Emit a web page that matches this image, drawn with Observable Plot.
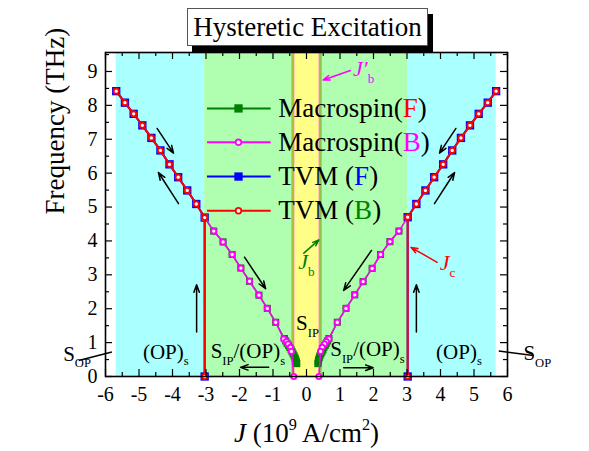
<!DOCTYPE html>
<html><head><meta charset="utf-8">
<script src="https://cdn.jsdelivr.net/npm/d3@7"></script>
<script src="https://cdn.jsdelivr.net/npm/@observablehq/plot@0.6"></script>
<style>
body{margin:0;background:#fff;}
#wrap{position:relative;width:589px;height:451px;font-family:"Liberation Serif","Times New Roman",serif;}
#chart{position:absolute;left:0;top:0;}
#title{position:absolute;left:187px;top:8px;width:239px;height:36px;border:1px solid #555;background:#fff;box-shadow:5px 6px 0 #000;font-size:27px;line-height:36px;text-align:center;z-index:2;color:#000;}
</style></head><body>
<div id="wrap"><div id="chart"></div><div id="title">Hysteretic Excitation</div></div>
<script>
// ---------------- data ----------------
// TVM upper branch + jump at J_c (F and B share the same points)
const tvmLeftJ  = [-5.68,-5.42,-5.16,-4.90,-4.63,-4.36,-4.09,-3.83,-3.56,-3.29,-3.04,-3.04];
const tvmLeftF  = [ 8.42, 8.08, 7.75, 7.41, 7.04, 6.67, 6.26, 5.88, 5.49, 5.09, 4.69, 0];
const tvmRightJ = [ 5.66, 5.41, 5.14, 4.88, 4.61, 4.35, 4.08, 3.81, 3.55, 3.28, 3.02, 3.02];
const tvmRightF = [ 8.42, 8.08, 7.75, 7.41, 7.04, 6.67, 6.26, 5.88, 5.49, 5.09, 4.70, 0];
// Macrospin backward branch
const msBLeftJ  = [-3.04,-2.77,-2.49,-2.22,-1.96,-1.70,-1.42,-1.17,-0.92,-0.68,-0.60,-0.55,-0.48,-0.45,-0.38];
const msBLeftF  = [ 4.69, 4.29, 3.97, 3.60, 3.20, 2.81, 2.40, 2.01, 1.60, 1.11, 1.03, 0.96, 0.86, 0.74, 0];
const msBRightJ = [ 3.02, 2.76, 2.49, 2.21, 1.96, 1.69, 1.44, 1.18, 0.92, 0.67, 0.59, 0.54, 0.47, 0.42, 0.37];
const msBRightF = [ 4.70, 4.29, 3.98, 3.60, 3.19, 2.80, 2.41, 2.01, 1.60, 1.11, 1.03, 0.96, 0.86, 0.74, 0];
// Macrospin forward branch
const msFLeftJ  = [-3.04,-2.77,-2.49,-2.22,-1.96,-1.70,-1.42,-1.17,-0.92,-0.66,-0.62,-0.58,-0.54,-0.50,-0.46,-0.43,-0.40,-0.37,-0.34,-0.32,-0.30,-0.29];
const msFLeftF  = [ 4.69, 4.29, 3.97, 3.60, 3.20, 2.81, 2.40, 2.01, 1.60, 1.12, 1.05, 0.98, 0.92, 0.86, 0.79, 0.73, 0.67, 0.61, 0.55, 0.49, 0.43, 0.38];
const msFRightJ = [ 2.76, 2.49, 2.21, 1.96, 1.69, 1.44, 1.18, 0.92, 0.67, 0.63, 0.59, 0.56, 0.52, 0.49, 0.46, 0.43, 0.40, 0.38, 0.36, 0.35, 0.34];
const msFRightF = [ 4.29, 3.98, 3.60, 3.19, 2.80, 2.41, 2.01, 1.60, 1.12, 1.05, 0.98, 0.92, 0.86, 0.79, 0.73, 0.67, 0.61, 0.55, 0.49, 0.43, 0.38];

// phase regions
const regionStart = [-5.68, -3.04, -0.43, 0.43, 3.02];
const regionEnd   = [-3.04, -0.43,  0.43, 3.02, 5.66];
const regionKind  = ["OP", "mixed", "IP", "mixed", "OP"];
const jbLines      = [-0.43, 0.43];   // J_b
const jbPrimeLines = [-0.38, 0.38];   // J'_b

// ticks
const xTicks = [-6,-5,-4,-3,-2,-1,0,1,2,3,4,5,6];
const yTicks = [0,1,2,3,4,5,6,7,8,9];
const xMinorTicks = [-5.5,-4.5,-3.5,-2.5,-1.5,-0.5,0.5,1.5,2.5,3.5,4.5,5.5];
const yMinorTicks = [0.5,1.5,2.5,3.5,4.5,5.5,6.5,7.5,8.5,9.5];

// legend
const legendKeys   = ["msF","msB","tvmF","tvmB"];
const legendLabels = ["Macrospin({#ff0000|F})","Macrospin({#ff00ff|B})","TVM ({#0000ff|F})","TVM ({#008000|B})"];

// annotations
const noteText = ["(OP)_{s}","(OP)_{s}","S_{IP}/(OP)_{s}","S_{IP}/(OP)_{s}","S_{IP}"];
const noteJ    = [-4.20, 4.55, -1.75, 1.82, 0.03];
const noteF    = [ 0.53, 0.53,  0.55, 0.60, 1.36];
const sopText  = ["S_{OP}","S_{OP}"];
const sopJ     = [-6.85, 6.89];
const sopF     = [ 0.47, 0.49];
const sopLineJ1 = [-6.80, 5.74], sopLineF1 = [0.47, 0.75];
const sopLineJ2 = [-5.81, 6.77], sopLineF2 = [0.72, 0.62];
// black sweep arrows (tail -> head)
const arrJ1 = [-4.46,-3.82, 4.46, 3.82,-3.28, 3.28,-1.85, 1.94,-1.13, 1.11];
const arrF1 = [ 7.32, 5.10, 7.32, 5.10, 1.31, 1.31, 3.52, 3.72, 0.27, 0.26];
const arrJ2 = [-3.97,-4.42, 3.97, 4.42,-3.28, 3.28,-1.22, 1.11,-1.97, 1.99];
const arrF2 = [ 6.59, 6.02, 6.59, 6.02, 2.71, 2.71, 2.59, 2.54, 0.27, 0.26];
// threshold labels
const thrText = ["*J*_{c}", "*J*_{b}", "*J′*_{b}"];
const thrJ    = [3.98, -0.25, 1.39];
const thrF    = [3.13,  3.18, 8.88];
const thrArrJ1 = [3.90, -0.08, 1.31], thrArrF1 = [3.37, 3.64, 9.03];
const thrArrJ2 = [3.12,  0.37, 0.50], thrArrF2 = [3.81, 4.03, 8.75];

const xLabel = "*J* (10^{9} A/cm^{2})";
const yLabel = "Frequency (THz)";

// ---------------- layout & style ----------------
const W = 589, H = 451, mL = 105, mR = 82, mT = 52, mB = 75;
const xDom = [-6, 6], yDom = [0, 9.56];
const pxX = (W - mL - mR) / (xDom[1] - xDom[0]);
const pxY = (H - mT - mB) / (yDom[1] - yDom[0]);
const majorLen = 7, minorLen = 4;
const regionFill = {OP: "#aaffff", mixed: "#b0ffb0", IP: "#ffff88"};
const thrColor = ["#ff0000", "#008000", "#ff00ff"];
const legendLayout = {rowF: [7.91, 6.91, 5.90, 4.89], lineJ: [-2.97, -1.07], markJ: -2.03, textJ: -0.84};
const sty = {
  msF: {line: "#008000"}, msB: {line: "#ff00ff"}, tvmF: {line: "#0000ff"}, tvmB: {line: "#ff0000"}
};

const pts = (J, F) => J.map((j, i) => ({J: j, f: F[i]}));
const tvmL = pts(tvmLeftJ, tvmLeftF), tvmR = pts(tvmRightJ, tvmRightF);
const msBL = pts(msBLeftJ, msBLeftF), msBR = pts(msBRightJ, msBRightF);
const msFL = pts(msFLeftJ, msFLeftF), msFR = pts(msFRightJ, msFRightF);
const idx = a => a.map((_, i) => i);

const squares = (data, fill, r) => Plot.dot(data, {x: "J", y: "f", symbol: "square", r, fill, stroke: "none"});
const circles = (data, stroke) => Plot.dot(data, {x: "J", y: "f", r: 2.6, fill: "white", stroke, strokeWidth: 1.9});
const line = (data, stroke, w) => Plot.line(data, {x: "J", y: "f", stroke, strokeWidth: w});

const marks = [
  Plot.rect(idx(regionStart), {x1: i => regionStart[i], x2: i => regionEnd[i], y1: yDom[0], y2: yDom[1], fill: i => regionFill[regionKind[i]]}),
  Plot.ruleX(jbLines, {x: d => d, y1: yDom[0], y2: yDom[1], stroke: "#6b9a00", strokeWidth: 1}),
  Plot.ruleX(jbPrimeLines, {x: d => d, y1: yDom[0], y2: yDom[1], stroke: "#ff44ff", strokeWidth: 1}),
  // TVM forward
  line(tvmL, sty.tvmF.line, 2), line(tvmR, sty.tvmF.line, 2),
  squares(tvmL, "#0000ff", 4.7), squares(tvmR, "#0000ff", 4.7),
  // Macrospin forward
  line(msFL, sty.msF.line, 1.5), line(msFR, sty.msF.line, 1.5),
  squares(msFL, "#008000", 4.0), squares(msFR, "#008000", 4.0),
  // Macrospin backward
  line(msBL, sty.msB.line, 1.5), line(msBR, sty.msB.line, 1.5),
  circles(msBL, "#ff00ff"), circles(msBR, "#ff00ff"),
  // TVM backward
  line(tvmL, sty.tvmB.line, 2), line(tvmR, sty.tvmB.line, 2),
  circles(tvmL, "#ff0000"), circles(tvmR, "#ff0000"),
  // arrows
  Plot.arrow(idx(arrJ1), {x1: i => arrJ1[i], y1: i => arrF1[i], x2: i => arrJ2[i], y2: i => arrF2[i], stroke: "black", strokeWidth: 1.5, headLength: 8, headAngle: 40}),
  Plot.arrow(idx(thrArrJ1), {x1: i => thrArrJ1[i], y1: i => thrArrF1[i], x2: i => thrArrJ2[i], y2: i => thrArrF2[i], stroke: i => thrColor[i], strokeWidth: 1.5, headLength: 7, headAngle: 40}),
  Plot.text(thrText, {x: (d, i) => thrJ[i], y: (d, i) => thrF[i], text: d => d, fill: (d, i) => thrColor[i], textAnchor: "start", lineAnchor: "bottom", fontSize: 22}),
  // region labels
  Plot.text(noteText, {x: (d, i) => noteJ[i], y: (d, i) => noteF[i], text: d => d, textAnchor: "middle", lineAnchor: "bottom", fontSize: 21, fill: "black"}),
  // S_OP labels outside the frame
  Plot.link(idx(sopText), {x1: i => sopLineJ1[i], y1: i => sopLineF1[i], x2: i => sopLineJ2[i], y2: i => sopLineF2[i], stroke: "black", strokeWidth: 1.5}),
  Plot.text(sopText, {x: (d, i) => sopJ[i], y: (d, i) => sopF[i], text: d => d, textAnchor: (d, i) => i === 0 ? "end" : "start", lineAnchor: "bottom", fontSize: 21, fill: "black"}),
  // legend
  Plot.link(legendKeys, {x1: legendLayout.lineJ[0], x2: legendLayout.lineJ[1], y1: (d, i) => legendLayout.rowF[i], y2: (d, i) => legendLayout.rowF[i], stroke: d => sty[d].line, strokeWidth: 2}),
  Plot.dot(legendKeys.filter(k => k === "msF" || k === "tvmF"), {x: legendLayout.markJ, y: d => legendLayout.rowF[legendKeys.indexOf(d)], symbol: "square", r: 4.7, fill: d => sty[d].line}),
  Plot.dot(legendKeys.filter(k => k === "msB" || k === "tvmB"), {x: legendLayout.markJ, y: d => legendLayout.rowF[legendKeys.indexOf(d)], r: 2.8, fill: "white", stroke: d => sty[d].line, strokeWidth: 1.8}),
  Plot.text(legendLabels, {x: legendLayout.textJ, y: (d, i) => legendLayout.rowF[i], text: d => d, textAnchor: "start", lineAnchor: "middle", fontSize: 27, fill: "black"}),
  // inward ticks on all four sides
  Plot.ruleX(xTicks, {x: d => d, y1: yDom[0], y2: yDom[0] + majorLen / pxY, stroke: "black", strokeWidth: 1.2}),
  Plot.ruleX(xMinorTicks, {x: d => d, y1: yDom[0], y2: yDom[0] + minorLen / pxY, stroke: "black", strokeWidth: 1.2}),
  Plot.ruleX(xTicks, {x: d => d, y1: yDom[1], y2: yDom[1] - majorLen / pxY, stroke: "black", strokeWidth: 1.2}),
  Plot.ruleX(xMinorTicks, {x: d => d, y1: yDom[1], y2: yDom[1] - minorLen / pxY, stroke: "black", strokeWidth: 1.2}),
  Plot.ruleY(yTicks, {y: d => d, x1: xDom[0], x2: xDom[0] + majorLen / pxX, stroke: "black", strokeWidth: 1.2}),
  Plot.ruleY(yMinorTicks, {y: d => d, x1: xDom[0], x2: xDom[0] + minorLen / pxX, stroke: "black", strokeWidth: 1.2}),
  Plot.ruleY(yTicks, {y: d => d, x1: xDom[1], x2: xDom[1] - majorLen / pxX, stroke: "black", strokeWidth: 1.2}),
  Plot.ruleY(yMinorTicks, {y: d => d, x1: xDom[1], x2: xDom[1] - minorLen / pxX, stroke: "black", strokeWidth: 1.2}),
  Plot.frame({stroke: "black", strokeWidth: 1.6}),
  Plot.axisX({ticks: xTicks, tickSize: 0, tickPadding: 10, tickFormat: d => String(d), fontSize: 20, label: null}),
  Plot.axisY({ticks: yTicks, tickSize: 0, tickPadding: 8, tickFormat: d => String(d), fontSize: 20, label: null}),
  Plot.text([xLabel], {frameAnchor: "bottom", dy: 65, text: d => d, lineAnchor: "bottom", fontSize: 27, fill: "black"}),
  Plot.text([yLabel], {frameAnchor: "left", dx: -50, rotate: -90, text: d => d, lineAnchor: "middle", fontSize: 27, fill: "black"})
];

const svg = Plot.plot({
  width: W, height: H, marginLeft: mL, marginRight: mR, marginTop: mT, marginBottom: mB,
  x: {domain: xDom}, y: {domain: yDom},
  style: {fontFamily: "'Liberation Serif','Times New Roman',serif", background: "transparent", color: "black", overflow: "visible"},
  marks
});
document.getElementById("chart").appendChild(svg);

// ---------------- rich text (sub/superscripts, italics, colored letters) ----------------
function parseRich(s) {
  const segs = []; let i = 0, buf = "";
  const push = (t, st) => { if (t) segs.push(Object.assign({t}, st)); };
  while (i < s.length) {
    const c = s[i];
    if ((c === "_" || c === "^") && s[i + 1] === "{") {
      push(buf, {}); buf = "";
      const j = s.indexOf("}", i);
      push(s.slice(i + 2, j), {shift: c === "_" ? "sub" : "sup"}); i = j + 1;
    } else if (c === "*") {
      push(buf, {}); buf = "";
      const j = s.indexOf("*", i + 1);
      push(s.slice(i + 1, j), {italic: true}); i = j + 1;
    } else if (c === "{" && s[i + 1] === "#") {
      push(buf, {}); buf = "";
      const k = s.indexOf("|", i), j = s.indexOf("}", i);
      push(s.slice(k + 1, j), {color: s.slice(i + 1, k)}); i = j + 1;
    } else { buf += c; i++; }
  }
  push(buf, {});
  return segs;
}
svg.querySelectorAll("text").forEach(el => {
  if (el.querySelector("tspan")) return;
  const s = el.textContent;
  if (!/[_^*{]/.test(s)) return;
  const fs = parseFloat(getComputedStyle(el).fontSize) || 20;
  el.textContent = "";
  let off = 0;
  for (const g of parseRich(s)) {
    const ts = document.createElementNS("http://www.w3.org/2000/svg", "tspan");
    const target = g.shift === "sub" ? 0.32 * fs : g.shift === "sup" ? -0.42 * fs : 0;
    if (target !== off) ts.setAttribute("dy", target - off);
    off = target;
    if (g.shift) ts.setAttribute("font-size", 0.6 * fs);
    if (g.italic) ts.setAttribute("font-style", "italic");
    if (g.color) ts.setAttribute("fill", g.color);
    ts.textContent = g.t;
    el.appendChild(ts);
  }
});
</script>
</body></html>
